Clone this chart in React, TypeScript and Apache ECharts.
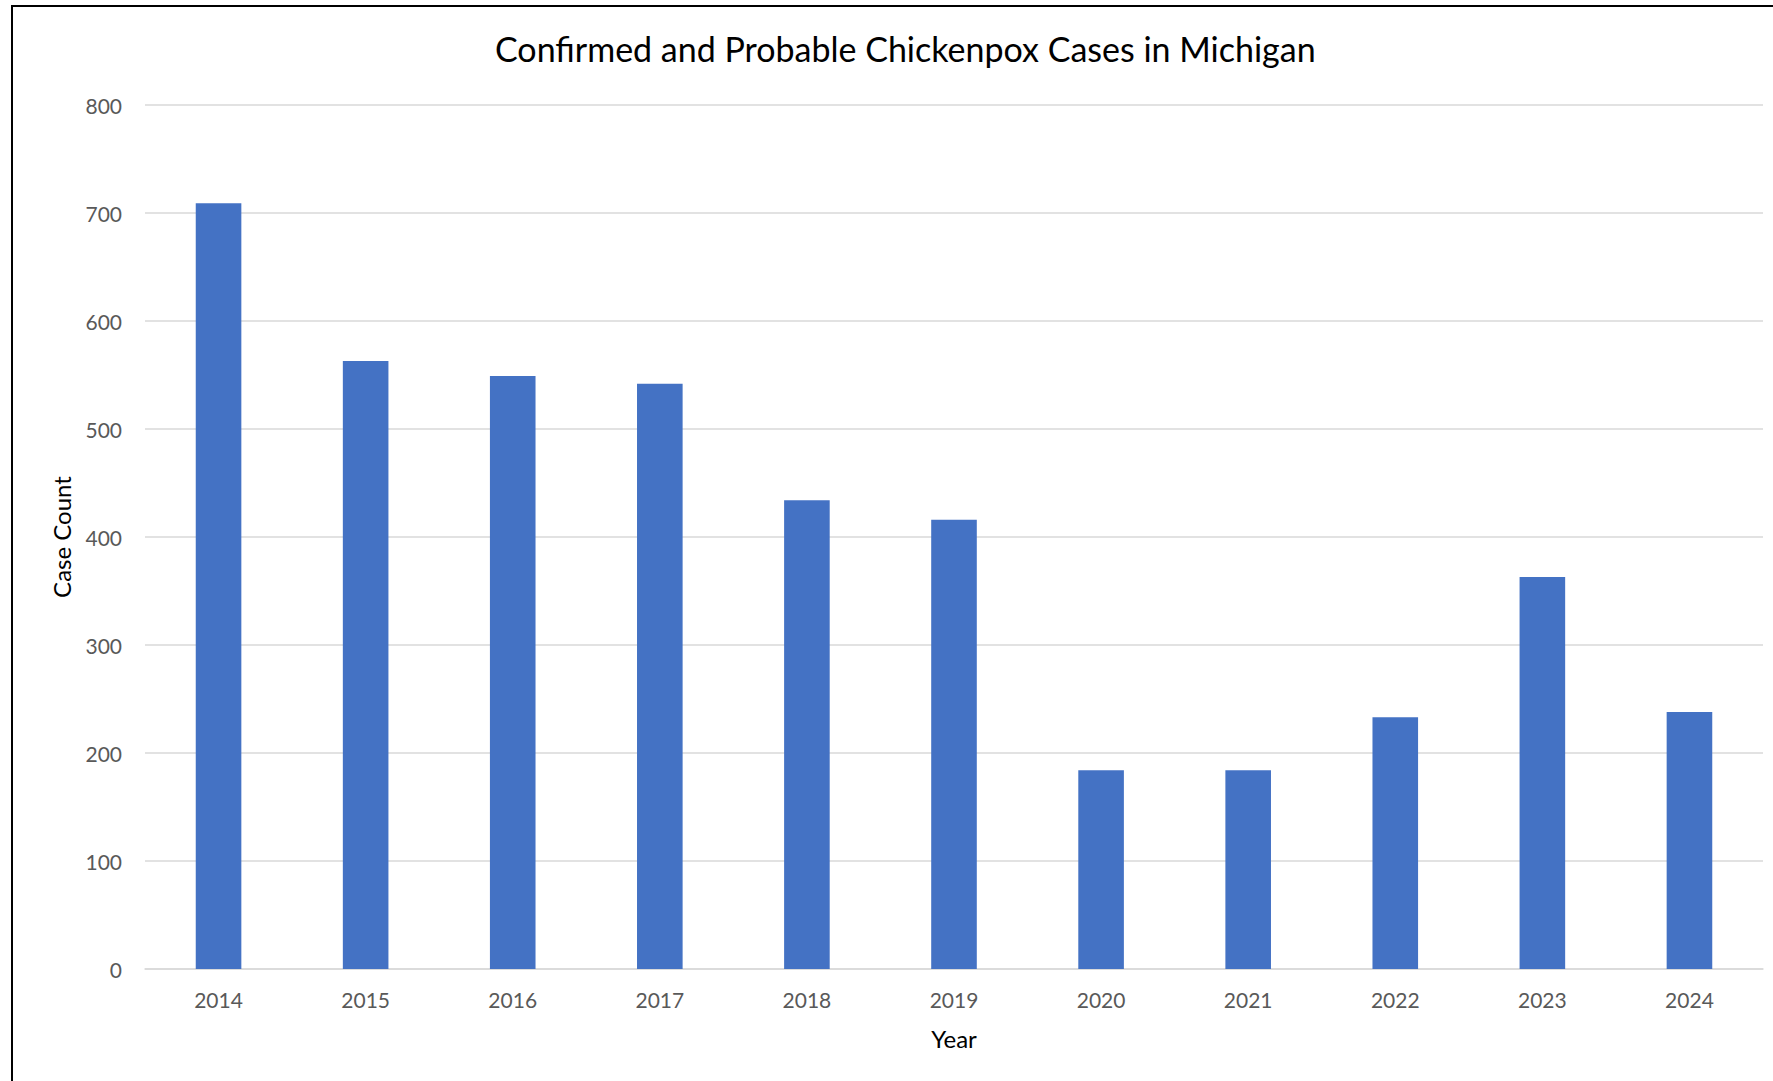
import React, { useEffect, useRef } from "react";
import * as echarts from "echarts";

const years: string[] = ["2014", "2015", "2016", "2017", "2018", "2019", "2020", "2021", "2022", "2023", "2024"];
const caseCounts: number[] = [709, 563, 549, 542, 434, 416, 184, 184, 233, 363, 238];
const titleText = "Confirmed and Probable Chickenpox Cases in Michigan";
const xAxisTitle = "Year";
const yAxisTitle = "Case Count";

const FONT = "Lato, 'Open Sans', sans-serif";

export default function App() {
  const ref = useRef<HTMLDivElement>(null);
  useEffect(() => {
    document.body.style.margin = "0";
    if (!ref.current) return;
    const chart = echarts.init(ref.current, null, { renderer: "svg" });
    chart.setOption({
      animation: false,
      backgroundColor: "#ffffff",
      textStyle: { fontFamily: FONT },
      title: {
        text: titleText,
        left: 490,
        top: 26,
        textStyle: { fontFamily: FONT, fontSize: 34, fontWeight: "normal", color: "#000000" },
      },
      graphic: [
        {
          type: "rect",
          shape: { x: 12, y: 6, width: 1800, height: 1200 },
          style: { fill: "none", stroke: "#000000", lineWidth: 2 },
          silent: true,
        },
      ],
      grid: { left: 145, right: 10, top: 105, bottom: 112, containLabel: false },
      xAxis: {
        type: "category",
        data: years,
        name: xAxisTitle,
        nameLocation: "middle",
        nameGap: 57,
        nameTextStyle: { fontFamily: FONT, fontSize: 24, color: "#000000" },
        axisLine: { show: true, lineStyle: { color: "#d9d9d9", width: 1.5 } },
        axisTick: { show: false },
        axisLabel: { fontFamily: FONT, fontSize: 21, color: "#595959", margin: 20 },
      },
      yAxis: {
        type: "value",
        min: 0,
        max: 800,
        interval: 100,
        name: yAxisTitle,
        nameLocation: "middle",
        nameGap: 72,
        nameRotate: 90,
        nameTextStyle: { fontFamily: FONT, fontSize: 24, color: "#000000" },
        axisLine: { show: false },
        axisTick: { show: false },
        axisLabel: { fontFamily: FONT, fontSize: 21, color: "#595959", margin: 23 },
        splitLine: { show: true, lineStyle: { color: "#d9d9d9", width: 1.5 } },
      },
      series: [
        {
          type: "bar",
          data: caseCounts,
          barWidth: "31%",
          itemStyle: { color: "#4472C4" },
        },
      ],
    });
    return () => chart.dispose();
  }, []);
  return <div ref={ref} style={{ width: 1773, height: 1081 }} />;
}
